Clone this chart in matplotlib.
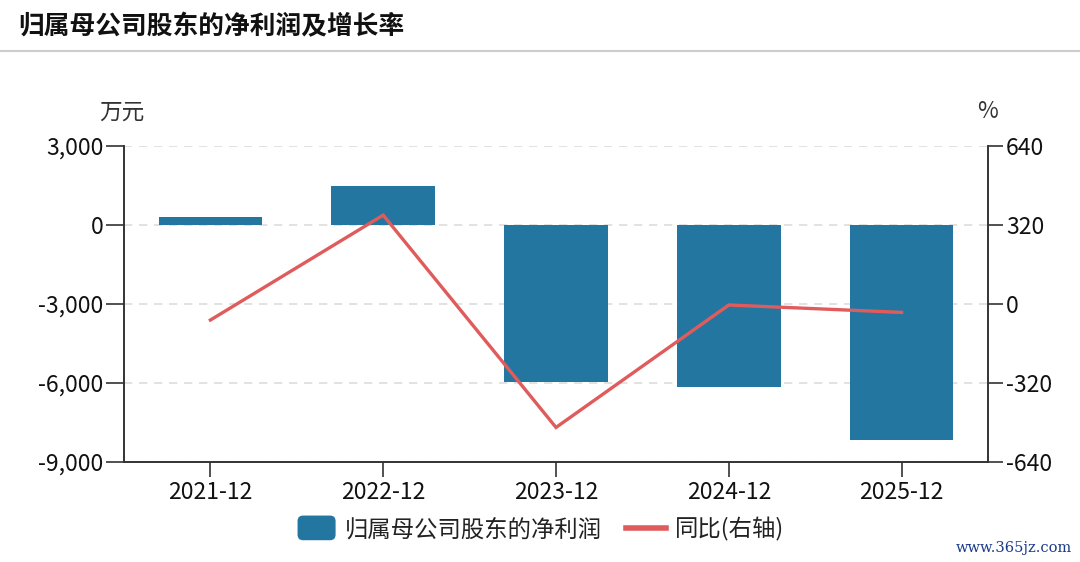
import matplotlib
matplotlib.use("Agg")
import matplotlib.pyplot as plt
from matplotlib.patches import FancyBboxPatch
from matplotlib.lines import Line2D
from matplotlib.legend_handler import HandlerPatch
import matplotlib.patches as mpatches

plt.rcParams['font.family'] = ['Noto Sans CJK SC', 'DejaVu Sans']

categories = ['2021-12', '2022-12', '2023-12', '2024-12', '2025-12']
profit = [320, 1500, -5950, -6150, -8180]
yoy = [-65, 360, -500, -4, -34]
left_ticks = [3000, 0, -3000, -6000, -9000]
right_ticks = [640, 320, 0, -320, -640]

BAR = '#2376a0'
LINE = '#e05c5c'
AX = '#333333'
W, H = 1080, 562

fig = plt.figure(figsize=(W / 100, H / 100), dpi=100)
ax = fig.add_axes([124 / W, 1 - 462 / H, (988 - 124) / W, (462 - 146) / H])
ax2 = ax.twinx()

x = list(range(len(categories)))
ax.bar(x, profit, width=0.6, color=BAR, zorder=2)
ax.set_xlim(-0.5, len(categories) - 0.5)
ax.set_ylim(-9000, 3000)
ax.set_yticks(left_ticks)
ax.set_yticklabels([f"{v:,}" for v in left_ticks])
ax.set_xticks(x)
ax.set_xticklabels(categories)
for v in left_ticks:
    ax.axhline(v, color='#dddddd', lw=1.2, ls=(0, (5, 4)), zorder=0)

ax2.plot(x, yoy, color=LINE, lw=2.4, zorder=3, solid_joinstyle='miter')
ax2.set_ylim(-640, 640)
ax2.set_yticks(right_ticks)
ax2.set_yticklabels([str(v) for v in right_ticks])

for a in (ax, ax2):
    a.spines['top'].set_visible(False)
    for s in ('left', 'right', 'bottom'):
        a.spines[s].set_color(AX)
        a.spines[s].set_linewidth(1.2)
    a.tick_params(colors=AX, labelcolor='#111111', labelsize=16.5, width=1.2)
ax.tick_params(axis='y', length=13, pad=2)
ax.tick_params(axis='x', length=11, pad=3)
ax2.tick_params(axis='y', length=11, pad=2)

# title & header rule
fig.text(18 / W, 1 - 27 / H, '归属母公司股东的净利润及增长率', fontsize=18.5,
         fontweight='bold', color='#111111', va='center', ha='left')
fig.add_artist(Line2D([0, 1], [1 - 51 / H, 1 - 51 / H], color='#cccccc', lw=1.5,
                      transform=fig.transFigure))

fig.text(122 / W, 1 - 112 / H, '万元', fontsize=16.3, color='#333333', ha='center', va='center')
fig.text(988 / W, 1 - 112 / H, '%', fontsize=16.3, color='#333333', ha='center', va='center')


class RoundHandler(HandlerPatch):
    def create_artists(self, legend, orig_handle, xdescent, ydescent, width,
                       height, fontsize, trans):
        p = FancyBboxPatch((-xdescent + 1, -ydescent - 3), width - 2, height + 6,
                           boxstyle='round,pad=0,rounding_size=4',
                           facecolor=BAR, edgecolor='none', transform=trans)
        return [p]


h1 = mpatches.Patch(color=BAR, label='归属母公司股东的净利润')
h2 = Line2D([], [], color=LINE, lw=4, label='同比(右轴)')
fig.legend(handles=[h1, h2], loc='center', bbox_to_anchor=(0.5, 1 - 529 / H),
           ncol=2, frameon=False, fontsize=16.8, handlelength=1.75,
           handletextpad=0.35, columnspacing=1.0,
           handler_map={mpatches.Patch: RoundHandler()}, labelcolor='#222222')

fig.text(1072 / W, 1 - 548 / H, 'www.365jz.com', fontsize=10.5, color='#1a3a8a',
         family='DejaVu Serif', ha='right', va='center')

fig.savefig('out.png', dpi=100)
